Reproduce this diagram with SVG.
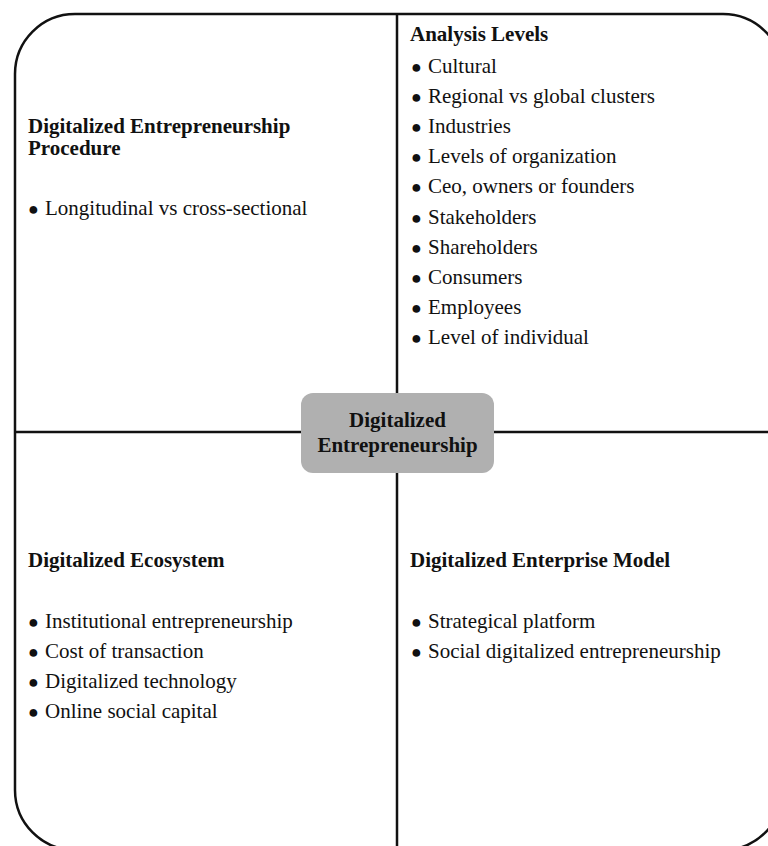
<svg xmlns="http://www.w3.org/2000/svg" width="768" height="846" viewBox="0 0 768 846">
<style>
text{font-family:"Liberation Serif","Times New Roman",serif;font-size:21px;fill:#111}
.h{font-weight:bold}
.b{font-size:18px}
.frame{fill:none;stroke:#111;stroke-width:2.5}
.line{stroke:#111;stroke-width:2.5;fill:none}
</style>
<rect width="768" height="846" fill="#fff"/>
<g id="frame"><rect class="frame" x="15" y="14" width="768" height="836" rx="60" ry="60"/></g>
<g id="connectors">
<line class="line" x1="397" y1="14" x2="397" y2="393"/>
<line class="line" x1="397" y1="473" x2="397" y2="850"/>
<line class="line" x1="15" y1="432" x2="301" y2="432"/>
<line class="line" x1="494" y1="432" x2="783" y2="432"/>
</g>
<g id="center">
<rect x="301" y="393" width="193" height="80" rx="12" ry="12" fill="#b0b0b0"/>
<text class="h" x="397.5" y="427" text-anchor="middle">Digitalized</text>
<text class="h" x="397.5" y="452" text-anchor="middle">Entrepreneurship</text>
</g>
<g id="procedure">
<text class="h" x="28" y="133">Digitalized Entrepreneurship</text>
<text class="h" x="28" y="155">Procedure</text>
<text x="28" y="215"><tspan class="b">●</tspan><tspan x="45">Longitudinal vs cross-sectional</tspan></text>
</g>
<g id="analysis">
<text class="h" x="410" y="41">Analysis Levels</text>
<text x="411" y="73"><tspan class="b">●</tspan><tspan x="428">Cultural</tspan></text>
<text x="411" y="103"><tspan class="b">●</tspan><tspan x="428">Regional vs global clusters</tspan></text>
<text x="411" y="133"><tspan class="b">●</tspan><tspan x="428">Industries</tspan></text>
<text x="411" y="163"><tspan class="b">●</tspan><tspan x="428">Levels of organization</tspan></text>
<text x="411" y="193"><tspan class="b">●</tspan><tspan x="428">Ceo, owners or founders</tspan></text>
<text x="411" y="224"><tspan class="b">●</tspan><tspan x="428">Stakeholders</tspan></text>
<text x="411" y="254"><tspan class="b">●</tspan><tspan x="428">Shareholders</tspan></text>
<text x="411" y="284"><tspan class="b">●</tspan><tspan x="428">Consumers</tspan></text>
<text x="411" y="314"><tspan class="b">●</tspan><tspan x="428">Employees</tspan></text>
<text x="411" y="344"><tspan class="b">●</tspan><tspan x="428">Level of individual</tspan></text>
</g>
<g id="ecosystem">
<text class="h" x="28" y="567">Digitalized Ecosystem</text>
<text x="28" y="628"><tspan class="b">●</tspan><tspan x="45">Institutional entrepreneurship</tspan></text>
<text x="28" y="658"><tspan class="b">●</tspan><tspan x="45">Cost of transaction</tspan></text>
<text x="28" y="688"><tspan class="b">●</tspan><tspan x="45">Digitalized technology</tspan></text>
<text x="28" y="718"><tspan class="b">●</tspan><tspan x="45">Online social capital</tspan></text>
</g>
<g id="enterprise">
<text class="h" x="410" y="567">Digitalized Enterprise Model</text>
<text x="411" y="628"><tspan class="b">●</tspan><tspan x="428">Strategical platform</tspan></text>
<text x="411" y="658"><tspan class="b">●</tspan><tspan x="428">Social digitalized entrepreneurship</tspan></text>
</g>
</svg>
